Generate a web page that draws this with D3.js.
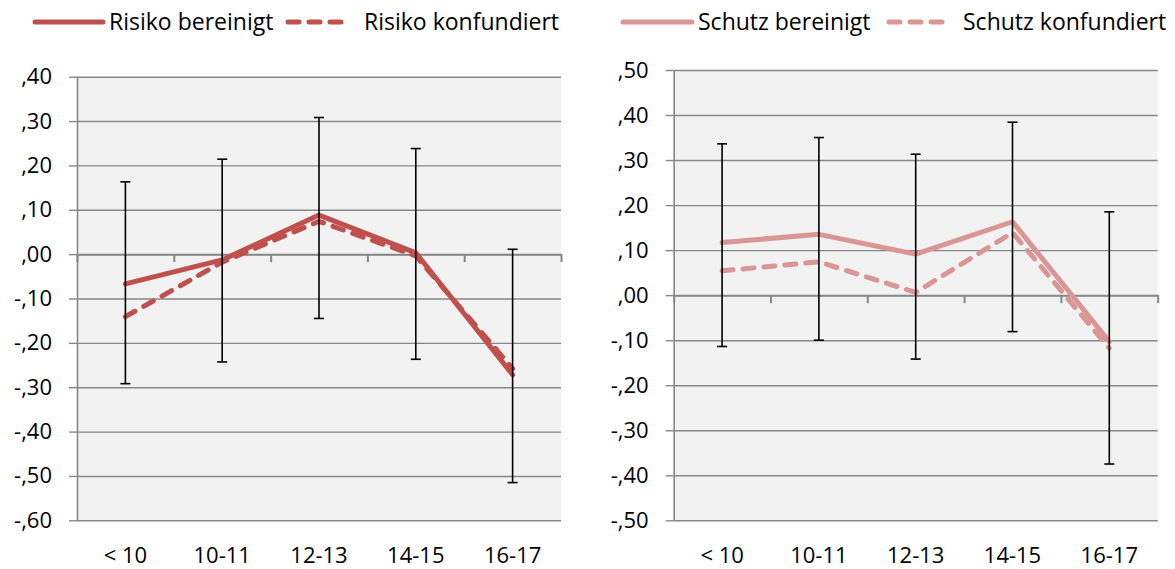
<!DOCTYPE html>
<html>
<head>
<meta charset="utf-8">
<script src="https://cdn.jsdelivr.net/npm/d3@7"></script>
<style>
  html, body { margin: 0; padding: 0; background: #ffffff; }
  svg { display: block; }
  text { font-family: "Open Sans", Lato, sans-serif; fill: #000; }
</style>
</head>
<body>
<svg id="chart" width="1175" height="569"></svg>
<script>
// Age groups on the x axis
const categories = ["< 10", "10-11", "12-13", "14-15", "16-17"];

// Risk factors: adjusted and confounded effect estimates
const risikoBereinigt   = [-0.067, -0.013, 0.088, 0.003, -0.272];
const risikoKonfundiert = [-0.141, -0.018, 0.074, -0.004, -0.258];
// Confidence interval bounds for the adjusted risk estimates
const risikoUpper = [0.163, 0.214, 0.308, 0.238, 0.011];
const risikoLower = [-0.292, -0.243, -0.145, -0.237, -0.515];

// Protective factors: adjusted and confounded effect estimates
const schutzBereinigt   = [0.117, 0.135, 0.091, 0.163, -0.103];
const schutzKonfundiert = [0.054, 0.074, 0.006, 0.139, -0.118];
// Confidence interval bounds for the adjusted protection estimates
const schutzUpper = [0.336, 0.350, 0.313, 0.384, 0.185];
const schutzLower = [-0.114, -0.100, -0.142, -0.081, -0.375];

// Y tick values for each panel
const risikoTicks = [0.4, 0.3, 0.2, 0.1, 0.0, -0.1, -0.2, -0.3, -0.4, -0.5, -0.6];
const schutzTicks = [0.5, 0.4, 0.3, 0.2, 0.1, 0.0, -0.1, -0.2, -0.3, -0.4, -0.5];

const svg = d3.select("#chart");
const GRID = "#878787";
const FONT = "'Open Sans', Lato, sans-serif";

// ",40" / "-,10" style labels
const fmt = d => {
  const v = Math.round(Math.abs(d) * 100);
  return (d < -1e-9 ? "-" : "") + "," + String(v).padStart(2, "0");
};

function drawPanel(cfg) {
  const g = svg.append("g");
  const { x0, x1, yTop, yBottom, ticks, color, solid, dashed, upper, lower } = cfg;
  const w = x1 - x0;

  const y = d3.scaleLinear().domain([d3.min(ticks), d3.max(ticks)]).range([yBottom, yTop]);
  const x = d3.scaleBand().domain(categories).range([x0, x1]).padding(0);
  const cx = c => x(c) + x.bandwidth() / 2;

  // plot background
  g.append("rect").attr("x", x0).attr("y", yTop).attr("width", w).attr("height", yBottom - yTop)
    .attr("fill", "#f2f2f2");

  // horizontal gridlines
  const grid = g.append("g").attr("transform", `translate(${x0},0)`)
    .call(d3.axisLeft(y).tickValues(ticks).tickSize(-w).tickFormat(""));
  grid.select(".domain").remove();
  grid.selectAll("line").attr("stroke", GRID).attr("stroke-width", 1.4);

  // y axis with outside ticks and labels
  const ya = g.append("g").attr("transform", `translate(${x0},0)`)
    .call(d3.axisLeft(y).tickValues(ticks).tickSize(8).tickSizeOuter(0).tickPadding(17).tickFormat(fmt));
  ya.select(".domain").attr("stroke", GRID).attr("stroke-width", 1.6);
  ya.selectAll("line").attr("stroke", GRID).attr("stroke-width", 1.4);
  ya.selectAll("text").attr("font-size", 22).attr("font-family", FONT).attr("fill", "#000");

  // horizontal axis along zero with tick marks at category boundaries
  const xb = d3.scaleLinear().domain([0, categories.length]).range([x0, x1]);
  const za = g.append("g").attr("transform", `translate(0,${y(0)})`)
    .call(d3.axisBottom(xb).tickValues(d3.range(categories.length + 1)).tickSize(8).tickSizeOuter(0).tickFormat(""));
  za.select(".domain").attr("stroke", GRID).attr("stroke-width", 2);
  za.selectAll("line").attr("stroke", GRID).attr("stroke-width", 2);

  // category labels below the plot
  const xa = g.append("g").attr("transform", `translate(0,${yBottom})`)
    .call(d3.axisBottom(x).tickSize(0).tickPadding(27));
  xa.select(".domain").remove();
  xa.selectAll("text").attr("font-size", 22).attr("font-family", FONT).attr("fill", "#000");

  const line = d3.line().x((d, i) => cx(categories[i])).y(d => y(d));

  g.append("path").datum(dashed).attr("d", line)
    .attr("fill", "none").attr("stroke", color).attr("stroke-width", 5)
    .attr("stroke-linecap", "round").attr("stroke-linejoin", "round")
    .attr("stroke-dasharray", "11,10");

  g.append("path").datum(solid).attr("d", line)
    .attr("fill", "none").attr("stroke", color).attr("stroke-width", 5)
    .attr("stroke-linecap", "round").attr("stroke-linejoin", "round");

  // error bars
  const eb = g.append("g").attr("stroke", "#000").attr("stroke-width", 1.6);
  categories.forEach((c, i) => {
    const px = cx(c);
    eb.append("line").attr("x1", px).attr("x2", px).attr("y1", y(upper[i])).attr("y2", y(lower[i]));
    eb.append("line").attr("x1", px - 5).attr("x2", px + 5).attr("y1", y(upper[i])).attr("y2", y(upper[i]));
    eb.append("line").attr("x1", px - 5).attr("x2", px + 5).attr("y1", y(lower[i])).attr("y2", y(lower[i]));
  });
}

function drawLegend(items, color) {
  const g = svg.append("g");
  items.forEach(it => {
    g.append("line").attr("x1", it.lx1).attr("x2", it.lx2).attr("y1", 22).attr("y2", 22)
      .attr("stroke", color).attr("stroke-width", 5).attr("stroke-linecap", "round")
      .attr("stroke-dasharray", it.dash ? "11,10" : null);
    g.append("text").attr("x", it.tx).attr("y", 30).attr("font-size", 23)
      .attr("font-family", FONT).text(it.label);
  });
}

drawPanel({
  x0: 77, x1: 561, yTop: 76.7, yBottom: 520.3, ticks: risikoTicks, color: "#c0504d",
  solid: risikoBereinigt, dashed: risikoKonfundiert, upper: risikoUpper, lower: risikoLower
});
drawPanel({
  x0: 673.7, x1: 1157.7, yTop: 70, yBottom: 520.3, ticks: schutzTicks, color: "#d99694",
  solid: schutzBereinigt, dashed: schutzKonfundiert, upper: schutzUpper, lower: schutzLower
});

drawLegend([
  { lx1: 35, lx2: 103, tx: 109, label: "Risiko bereinigt" },
  { lx1: 288, lx2: 350, tx: 364, label: "Risiko konfundiert", dash: true }
], "#c0504d");
drawLegend([
  { lx1: 623, lx2: 692, tx: 698, label: "Schutz bereinigt" },
  { lx1: 889, lx2: 950, tx: 963, label: "Schutz konfundiert", dash: true }
], "#d99694");
</script>
</body>
</html>
